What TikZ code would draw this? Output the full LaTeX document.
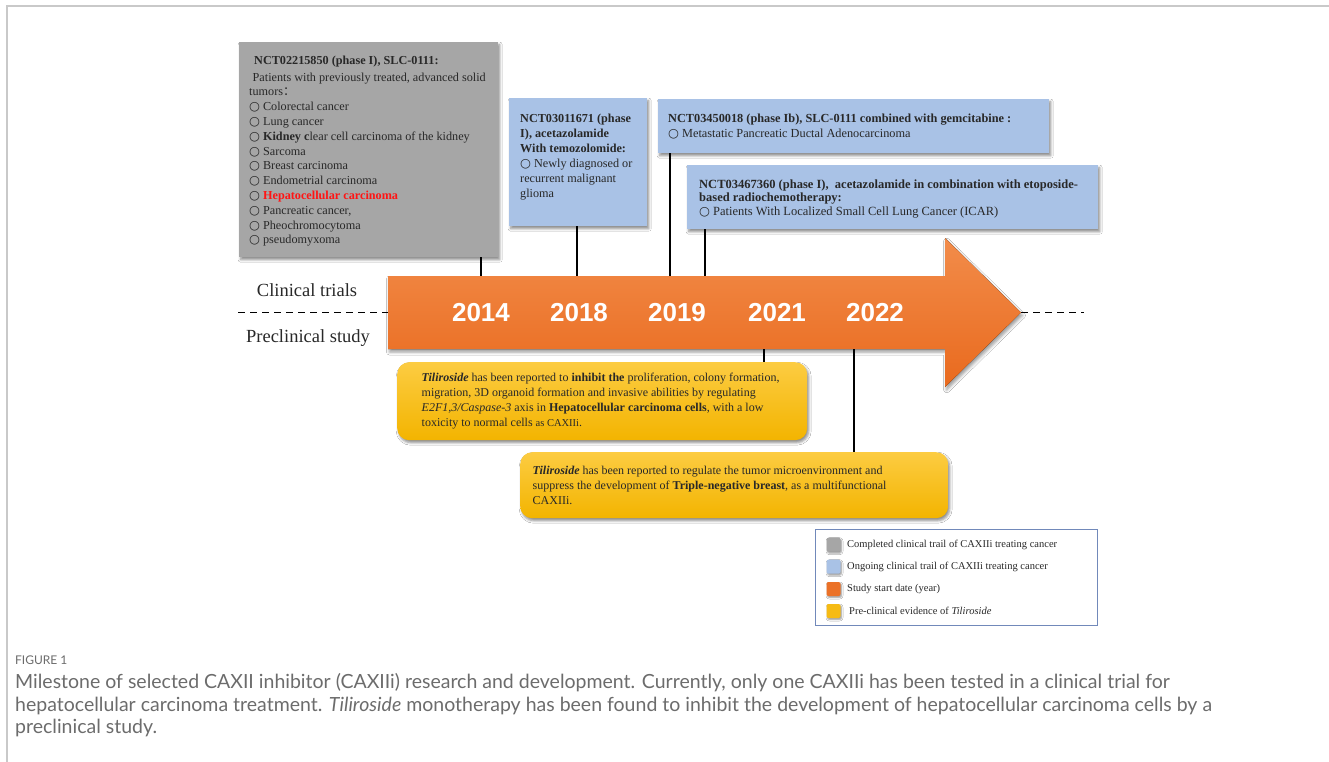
\documentclass[tikz,border=0pt]{standalone}
\usepackage{fontspec}
\usetikzlibrary{positioning,shadows.blur}
\setmainfont{Liberation Serif}
\newfontfamily\yearfont{Liberation Sans}
\newfontfamily\capfont{Lato}
\newfontfamily\symfont{DejaVu Sans}
\newfontfamily\cjkfont{Noto Sans CJK SC}

\definecolor{trialgray}{HTML}{A6A6A6}
\definecolor{trialblue}{HTML}{A9C2E6}
\definecolor{arrowtop}{HTML}{F28C4A}
\definecolor{arrowbot}{HTML}{E96A1E}
\definecolor{evidtop}{HTML}{FCCC42}
\definecolor{evidbot}{HTML}{F3B400}
\definecolor{legendline}{HTML}{7189BA}
\definecolor{bodytext}{HTML}{282828}
\definecolor{captext}{HTML}{6C6C6C}
\definecolor{framegray}{HTML}{C9C9C9}
\definecolor{hccred}{HTML}{FF1414}

\newcommand\bul{{\symfont\fontsize{12.5}{12}\selectfont ○}\hspace{3pt}}

\tikzset{
  trial/.style={anchor=north west, inner sep=0pt,
    blur shadow={shadow xshift=1.5pt, shadow yshift=-2.5pt, shadow blur radius=2.5pt, shadow opacity=45}},
  done/.style={trial, fill=trialgray},
  ongoing/.style={trial, fill=trialblue},
  evidence/.style={trial, top color=evidtop, bottom color=evidbot, rounded corners=12pt},
  boxtext/.style={anchor=west, inner sep=0pt, align=left, text=bodytext,
    font=\fontsize{12.2}{14.8}\selectfont},
  year/.style={anchor=base, inner sep=0pt, text=white, font=\yearfont\bfseries\fontsize{26}{26}\selectfont},
  side/.style={anchor=base, inner sep=0pt, text=bodytext, font=\fontsize{18.5}{20}\selectfont},
  link/.style={line width=1.4pt, black},
  divider/.style={line width=1.3pt, dash pattern=on 7pt off 5pt},
  swatch/.style={minimum size=14pt, inner sep=0pt, rounded corners=2pt,
    blur shadow={shadow xshift=1pt, shadow yshift=-1.5pt, shadow blur radius=1.5pt, shadow opacity=40}},
  legtext/.style={anchor=west, inner sep=0pt, text=bodytext, font=\fontsize{10.5}{12}\selectfont},
  captline/.style={anchor=base west, inner sep=0pt, text=captext, font=\capfont\fontsize{19.5}{22}\selectfont},
}

\begin{document}
\begin{tikzpicture}[x=1pt, y=-1pt]
\useasboundingbox (0,0) rectangle (1329,762);
\fill[white] (0,0) rectangle (1329,762);
\draw[framegray, line width=1.6pt] (7,762) -- (7,6) -- (1329,6);

% where the connectors meet the timeline
\coordinate (m2014) at (481,0);
\coordinate (m2018) at (577,0);
\coordinate (m2019a) at (670,0);
\coordinate (m2019b) at (705,0);
\coordinate (m2021) at (764,0);
\coordinate (m2022) at (854,0);
\coordinate (dashL) at (238,312.5);
\coordinate (dashR) at (1084,312.5);
\coordinate (tip) at (1021,312.5);

\node[inner sep=0pt, minimum width=557pt, minimum height=73pt] (axis) at (666.5,312.5) {};
\draw[divider] (dashL) -- (axis.west);
\draw[divider] (tip) -- (dashR);

% timeline arrow
\fill[top color=arrowtop, bottom color=arrowbot,
  blur shadow={shadow xshift=1.5pt, shadow yshift=-3pt, shadow blur radius=3pt, shadow opacity=40}]
  (388,276) -- (945,276) -- (945,238) -- (tip) -- (945,387) -- (945,349) -- (388,349) -- cycle;

\node[year] (y2014) at (481,321.5) {2014};
\node[year] (y2018) at (579,321.5) {2018};
\node[year] (y2019) at (677,321.5) {2019};
\node[year] (y2021) at (777,321.5) {2021};
\node[year] (y2022) at (875,321.5) {2022};

\node[side] (clinical) at (307,296) {Clinical trials};
\node[side] (preclinical) at (308,342) {Preclinical study};

% clinical trials
\node[done, minimum width=259pt, minimum height=215pt] (nct15) at (239,42) {};
\node[boxtext, xshift=10pt, yshift=-1.5pt] (nct15txt) at (nct15.west) {%
\hspace*{5pt}\textbf{NCT02215850 (phase I), SLC-0111:}\\[1.9pt]
\hspace*{3.5pt}Patients with previously treated, advanced solid\\
tumors{\cjkfont ：}\\
\bul Colorectal cancer\\
\bul Lung cancer\\
\bul \textbf{Kidney c}lear cell carcinoma of the kidney\\
\bul Sarcoma\\
\bul Breast carcinoma\\
\bul Endometrial carcinoma\\
\bul \textcolor{hccred}{\textbf{Hepatocellular carcinoma}}\\
\bul Pancreatic cancer,\\
\bul Pheochromocytoma\\
\bul pseudomyxoma};

\node[ongoing, minimum width=138pt, minimum height=128pt] (nct71) at (509,98) {};
\node[boxtext, font=\fontsize{12.2}{15}\selectfont, xshift=11pt, yshift=5pt] (nct71txt) at (nct71.west) {%
\textbf{NCT03011671 (phase}\\
\textbf{I), acetazolamide}\\
\textbf{With temozolomide:}\\
\bul Newly diagnosed or\\
recurrent malignant\\
glioma};

\node[ongoing, minimum width=391pt, minimum height=54pt] (nct18) at (658,99) {};
\node[boxtext, font=\fontsize{12.3}{15}\selectfont, xshift=10pt] (nct18txt) at (nct18.west) {%
\textbf{NCT03450018 (phase Ib), SLC-0111 combined with gemcitabine :}\\
\bul Metastatic Pancreatic Ductal Adenocarcinoma};

\node[ongoing, minimum width=411pt, minimum height=64pt] (nct60) at (687,165) {};
\node[boxtext, font=\fontsize{12.5}{13.6}\selectfont, xshift=12pt, yshift=-1.5pt] (nct60txt) at (nct60.west) {%
\textbf{NCT03467360 (phase I),\ \ acetazolamide in combination with etoposide-}\\
\textbf{based radiochemotherapy:}\\
\bul Patients With Localized Small Cell Lung Cancer (ICAR)};

\draw[link] (nct15.south -| m2014) -- (axis.north -| m2014);
\draw[link] (nct71.south -| m2018) -- (axis.north -| m2018);
\draw[link] (nct18.south -| m2019a) -- (axis.north -| m2019a);
\draw[link] (nct60.south -| m2019b) -- (axis.north -| m2019b);

% preclinical evidence
\node[evidence, minimum width=410pt, minimum height=78pt] (tili21) at (397,362) {};
\node[boxtext, font=\fontsize{12}{14.8}\selectfont, xshift=24.5pt] (tili21txt) at (tili21.west) {%
\textbf{\textit{Tiliroside}} has been reported to \textbf{inhibit the} proliferation, colony formation,\\
migration, 3D organoid formation and invasive abilities by regulating\\
\textit{E2F1,3/Caspase-3} axis in \textbf{Hepatocellular carcinoma cells}, with a low\\
toxicity to normal cells {\fontsize{10.5}{14.8}\selectfont as CAXIIi}.};

\node[evidence, minimum width=428pt, minimum height=66pt] (tili22) at (520,452) {};
\node[boxtext, font=\fontsize{12}{15}\selectfont, xshift=12.5pt] (tili22txt) at (tili22.west) {%
\textbf{\textit{Tiliroside}} has been reported to regulate the tumor microenvironment and\\
suppress the development of \textbf{Triple-negative breast}, as a multifunctional\\
CAXIIi.};

\draw[link] (axis.south -| m2021) -- (tili21.north -| m2021);
\draw[link] (axis.south -| m2022) -- (tili22.north -| m2022);

% legend
\node[draw=legendline, line width=0.8pt, anchor=north west, inner sep=0pt,
  minimum width=282pt, minimum height=96pt] (legend) at (815,529) {};
\node[swatch, fill=trialgray] (sw1) at (833.5,544.7) {};
\node[swatch, fill=trialblue] (sw2) at (833.5,566.7) {};
\node[swatch, fill=arrowbot!80!arrowtop] (sw3) at (833.5,589) {};
\node[swatch, fill=evidbot!70!evidtop] (sw4) at (833.5,611) {};
\node[legtext, right=6.3pt of sw1] (lt1) {Completed clinical trail of CAXIIi treating cancer};
\node[legtext, right=6.3pt of sw2] (lt2) {Ongoing clinical trail of CAXIIi treating cancer};
\node[legtext, right=6.3pt of sw3] (lt3) {Study start date (year)};
\node[legtext, right=8.3pt of sw4] (lt4) {Pre-clinical evidence of \textit{Tiliroside}};

% caption
\node[captline, font=\capfont\fontsize{12}{12}\selectfont] (figno) at (15,664) {FIGURE 1};
\node[captline] (cap1) at (15,688) {Milestone of selected CAXII inhibitor (CAXIIi) research and development. Currently, only one CAXIIi has been tested in a clinical trial for};
\node[captline] (cap2) at (15,711) {hepatocellular carcinoma treatment. \textit{Tiliroside} monotherapy has been found to inhibit the development of hepatocellular carcinoma cells by a};
\node[captline] (cap3) at (15,733) {preclinical study.};
\end{tikzpicture}
\end{document}
